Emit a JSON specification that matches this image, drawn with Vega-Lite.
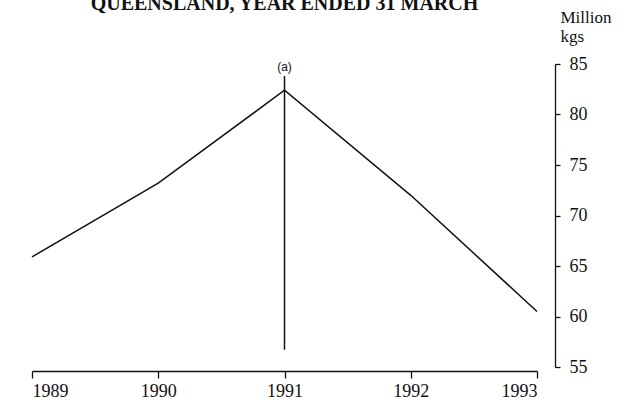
{
  "$schema": "https://vega.github.io/schema/vega-lite/v6.json",
  "width": 505,
  "height": 303,
  "autosize": {"type": "none"},
  "padding": {"left": 32, "top": 64, "right": 90, "bottom": 47},
  "background": "white",
  "title": {
    "text": "QUEENSLAND, YEAR ENDED 31 MARCH",
    "font": "Liberation Serif",
    "fontSize": 20,
    "fontWeight": "bold",
    "color": "#111",
    "anchor": "middle",
    "frame": "group",
    "offset": -6
  },
  "datasets": {
    "series": [
      {"year": 1989, "value": 65.9},
      {"year": 1990, "value": 73.2},
      {"year": 1991, "value": 82.4},
      {"year": 1992, "value": 72.0},
      {"year": 1993, "value": 60.5}
    ],
    "marker": [
      {"year": 1991, "lo": 56.7, "hi": 83.8, "label": "(a)", "labelY": 84.7}
    ]
  },
  "config": {
    "view": {"stroke": null},
    "axis": {
      "grid": false,
      "domainColor": "#111",
      "tickColor": "#111",
      "labelColor": "#111",
      "titleColor": "#111",
      "labelFont": "Liberation Serif",
      "labelFontSize": 18,
      "titleFont": "Liberation Serif",
      "titleFontSize": 17,
      "titleFontWeight": "normal",
      "domainWidth": 1.3,
      "tickWidth": 1.3
    }
  },
  "layer": [
    {
      "data": {"name": "series"},
      "mark": {"type": "line", "color": "#111", "strokeWidth": 1.5},
      "encoding": {
        "x": {
          "field": "year",
          "type": "quantitative",
          "scale": {"domain": [1989, 1993], "nice": false, "zero": false},
          "axis": {
            "values": [1989, 1990, 1991, 1992, 1993],
            "format": "d",
            "title": null,
            "offset": 4,
            "tickSize": 7,
            "labelPadding": 4
          }
        },
        "y": {
          "field": "value",
          "type": "quantitative",
          "scale": {"domain": [55, 85], "nice": false, "zero": false},
          "axis": {
            "orient": "right",
            "offset": 18,
            "values": [55, 60, 65, 70, 75, 80, 85],
            "tickSize": 5,
            "labelPadding": 9,
            "title": ["Million", "kgs"],
            "titleAngle": 0,
            "titleAlign": "left",
            "titleBaseline": "alphabetic",
            "titleX": 5,
            "titleY": -42,
            "titleLineHeight": 19
          }
        }
      }
    },
    {
      "data": {"name": "marker"},
      "mark": {"type": "rule", "color": "#111", "strokeWidth": 1.5},
      "encoding": {
        "x": {"field": "year", "type": "quantitative"},
        "y": {"field": "lo", "type": "quantitative"},
        "y2": {"field": "hi"}
      }
    },
    {
      "data": {"name": "marker"},
      "mark": {"type": "text", "font": "Liberation Sans", "fontSize": 12, "color": "#111", "baseline": "middle"},
      "encoding": {
        "x": {"field": "year", "type": "quantitative"},
        "y": {"field": "labelY", "type": "quantitative"},
        "text": {"field": "label"}
      }
    }
  ]
}
